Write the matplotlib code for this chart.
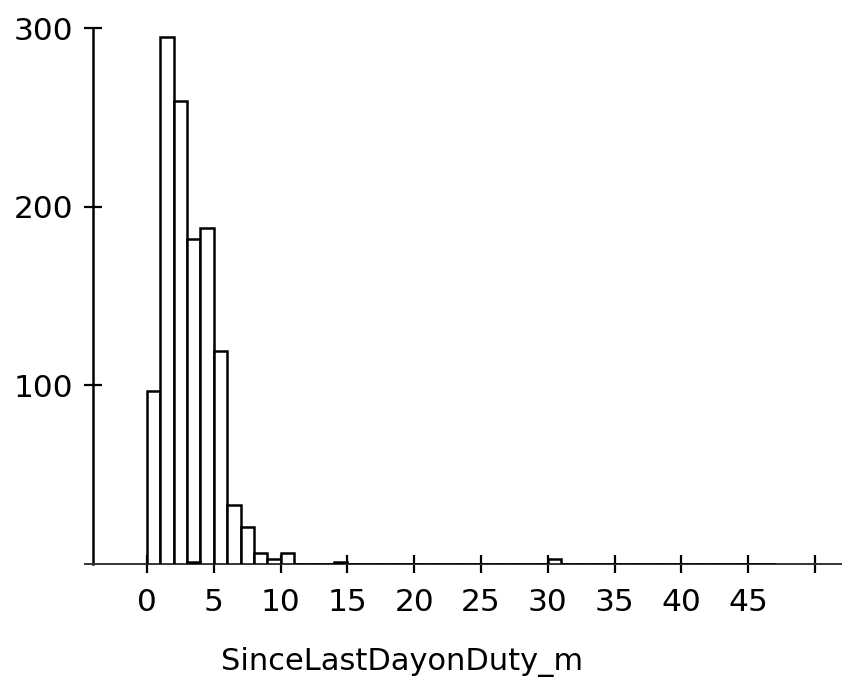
import matplotlib
matplotlib.use("Agg")
import matplotlib.pyplot as plt
import numpy as np

# histogram of SinceLastDayonDuty_m, unit-width bins from 0 to 47
bin_edges = list(range(0, 48))
counts = [97, 295, 259, 182, 188, 119, 33, 21, 6, 3, 6, 0, 0, 0, 1] + [0] * 15 + [3] + [0] * 16
# tiny second bar that shows up inside the [3, 4) bin
inner_left = [3]
inner_counts = [1]

x_ticks = list(range(0, 55, 5))
x_tick_labels = [str(t) for t in range(0, 50, 5)] + [""]
y_ticks = [100, 200, 300]


def main():
    plt.rcParams['font.family'] = ['DejaVu Sans']
    fig = plt.figure(figsize=(8.52, 6.83), dpi=100)
    ax = fig.add_axes([0.0998, 0.1742, 0.8873, 0.7848])

    lefts = np.array(bin_edges[:-1])
    widths = np.diff(bin_edges)
    ax.bar(lefts, counts, width=widths, align='edge', facecolor='white',
           edgecolor='black', linewidth=1.8, zorder=3)
    ax.bar(inner_left, inner_counts, width=1, align='edge', facecolor='white',
           edgecolor='black', linewidth=1.8, zorder=3)

    ax.set_xlim(-4.64, 51.95)
    ax.set_ylim(0, 300)

    for side in ['top', 'right']:
        ax.spines[side].set_visible(False)
    ax.spines['left'].set_position(('data', -4.04))
    ax.spines['left'].set_linewidth(1.8)
    ax.spines['bottom'].set_linewidth(1.4)
    ax.spines['bottom'].set_color('#333333')

    ax.set_xticks(x_ticks)
    ax.set_xticklabels(x_tick_labels)
    ax.set_yticks(y_ticks)
    ax.tick_params(axis='both', direction='inout', length=13, width=1.6,
                   labelsize=22.5, colors='black')
    ax.tick_params(axis='x', pad=11)
    ax.tick_params(axis='y', pad=8)

    ax.set_xlabel('SinceLastDayonDuty_m', fontsize=22)
    ax.xaxis.set_label_coords(0.42, -0.155)

    fig.savefig('out.png', dpi=100)


if __name__ == "__main__":
    main()
